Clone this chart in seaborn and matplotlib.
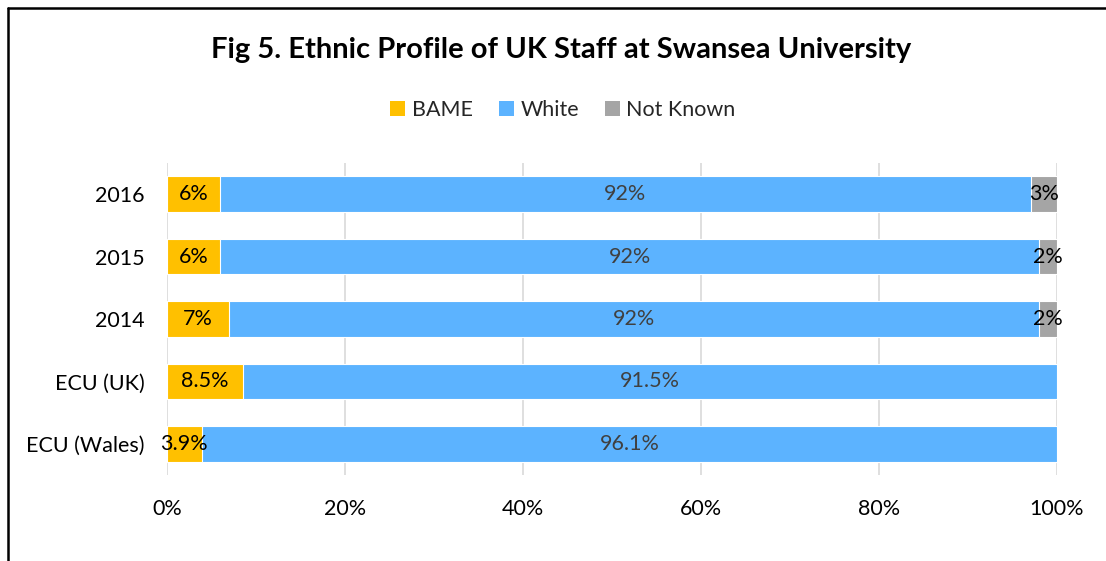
import numpy as np
import pandas as pd
import matplotlib
matplotlib.use("Agg")
import matplotlib.pyplot as plt
from matplotlib.lines import Line2D
from matplotlib.patches import Patch
import seaborn as sns

categories = ["2016", "2015", "2014", "ECU (UK)", "ECU (Wales)"]
bame = [6, 6, 7, 8.5, 3.9]
white = [92, 92, 92, 91.5, 96.1]
not_known = [3, 2, 2, 0, 0]
bame_labels = ["6%", "6%", "7%", "8.5%", "3.9%"]
white_labels = ["92%", "92%", "92%", "91.5%", "96.1%"]
nk_labels = ["3%", "2%", "2%", "", ""]
xticks = [0, 20, 40, 60, 80, 100]
xtick_labels = ["0%", "20%", "40%", "60%", "80%", "100%"]

c_bame = "#FFC000"
c_white = "#5CB3FF"
c_nk = "#A5A5A5"

sns.set_theme(style="white")
plt.rcParams["font.family"] = ["Lato", "DejaVu Sans"]

df = pd.DataFrame({"cat": categories, "BAME": bame, "White": white, "NK": not_known})
tot = df["BAME"] + df["White"] + df["NK"]
df["p_b"] = df["BAME"] / tot * 100
df["p_w"] = df["White"] / tot * 100
df["p_n"] = df["NK"] / tot * 100
df["c1"] = df["p_b"]
df["c2"] = df["p_b"] + df["p_w"]
df["c3"] = df["c2"] + df["p_n"]

fig = plt.figure(figsize=(11.06, 5.61), dpi=100)
ax = fig.add_axes([167 / 1106, 1 - 475 / 561, (1057 - 167) / 1106, (475 - 163) / 561])

bw = 0.57
sns.barplot(data=df, x="c3", y="cat", orient="h", color=c_nk, width=bw, ax=ax,
            saturation=1, edgecolor="white", linewidth=0.8)
sns.barplot(data=df, x="c2", y="cat", orient="h", color=c_white, width=bw, ax=ax,
            saturation=1, edgecolor="white", linewidth=0.8)
sns.barplot(data=df, x="c1", y="cat", orient="h", color=c_bame, width=bw, ax=ax,
            saturation=1, edgecolor="white", linewidth=0.8)

fs = 15.5
for i, r in df.iterrows():
    ax.text(r["c1"] / 2, i, bame_labels[i], ha="center", va="center", fontsize=fs, color="black")
    ax.text(r["c1"] + r["p_w"] / 2, i, white_labels[i], ha="center", va="center", fontsize=fs, color="#404040")
    if nk_labels[i]:
        ax.text(r["c2"] + r["p_n"] / 2, i, nk_labels[i], ha="center", va="center", fontsize=fs, color="black")

ax.set_xlim(0, 100)
ax.set_ylim(4.5, -0.5)
ax.set_xticks(xticks)
ax.set_xticklabels(xtick_labels, fontsize=fs)
ax.tick_params(axis="y", labelsize=fs, length=0, pad=16)
ax.tick_params(axis="x", length=0, pad=17)
ax.set_xlabel("")
ax.set_ylabel("")
for s in ax.spines.values():
    s.set_visible(False)
ax.grid(axis="x", color="#D9D9D9", linewidth=1.2)
ax.set_axisbelow(True)
for lbl in ax.get_yticklabels() + ax.get_xticklabels():
    lbl.set_color("black")

fig.text(0.507, 1 - 50 / 561, "Fig 5. Ethnic Profile of UK Staff at Swansea University",
         ha="center", va="center", fontsize=21, fontweight="bold", color="black")

handles = [Patch(facecolor=c_bame, edgecolor="none", label="BAME"),
           Patch(facecolor=c_white, edgecolor="none", label="White"),
           Patch(facecolor=c_nk, edgecolor="none", label="Not Known")]
fig.legend(handles=handles, loc="center", bbox_to_anchor=(0.509, 1 - 110 / 561), ncol=3,
           frameon=False, fontsize=fs, handlelength=0.7, handleheight=0.7,
           handletextpad=0.3, columnspacing=1.2)

fig.add_artist(Line2D([8 / 1106, 8 / 1106], [0, 1 - 8 / 561], transform=fig.transFigure,
                      color="black", linewidth=1.8))
fig.add_artist(Line2D([8 / 1106, 1], [1 - 8 / 561, 1 - 8 / 561], transform=fig.transFigure,
                      color="black", linewidth=1.8))

fig.savefig("out.png", dpi=100)
